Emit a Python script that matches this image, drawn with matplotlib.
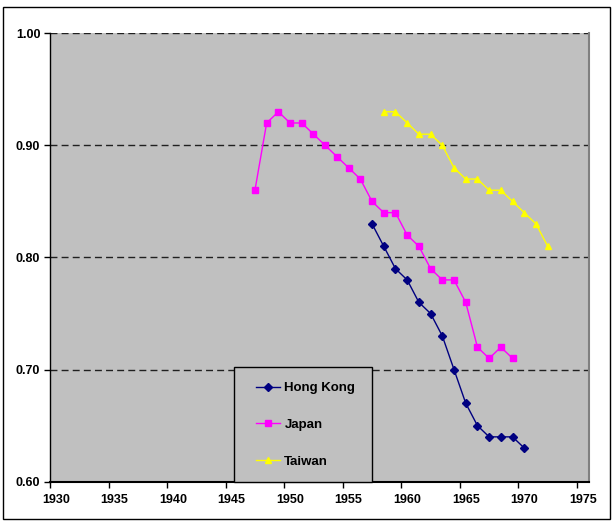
import matplotlib
matplotlib.use("Agg")
import matplotlib.pyplot as plt
from matplotlib.patches import Rectangle

plt.rcParams['font.family'] = ['Liberation Sans', 'DejaVu Sans']
plt.rcParams['font.weight'] = 'bold'

years_hk = [1957, 1958, 1959, 1960, 1961, 1962, 1963, 1964, 1965, 1966, 1967, 1968, 1969, 1970]
hong_kong = [0.83, 0.81, 0.79, 0.78, 0.76, 0.75, 0.73, 0.70, 0.67, 0.65, 0.64, 0.64, 0.64, 0.63]

years_jp = list(range(1947, 1970))
japan = [0.86, 0.92, 0.93, 0.92, 0.92, 0.91, 0.90, 0.89, 0.88, 0.87, 0.85, 0.84, 0.84,
         0.82, 0.81, 0.79, 0.78, 0.78, 0.76, 0.72, 0.71, 0.72, 0.71]

years_tw = list(range(1958, 1973))
taiwan = [0.93, 0.93, 0.92, 0.91, 0.91, 0.90, 0.88, 0.87, 0.87, 0.86, 0.86, 0.85, 0.84, 0.83, 0.81]

x_labels = [1930, 1935, 1940, 1945, 1950, 1955, 1960, 1965, 1970, 1975]
y_ticks = [0.60, 0.70, 0.80, 0.90, 1.00]

W, H = 613, 522
fig = plt.figure(figsize=(W / 100, H / 100), dpi=100)
fig.patch.set_facecolor('white')
# outer chart border
fig.patches.append(Rectangle((3 / W, 3 / H), 607 / W, 512 / H, transform=fig.transFigure,
                             fill=False, edgecolor='black', linewidth=1.0))

left, right, top, bottom = 50, 588.7, 33.3, 481.7
aw, ah = right - left, bottom - top
ax = fig.add_axes([left / W, (H - bottom) / H, aw / W, ah / H])
ax.set_facecolor('#C0C0C0')

for y in y_ticks[1:]:
    ax.axhline(y, color='#202020', linestyle=(0, (5, 3)), linewidth=1.0, zorder=1)

ax.plot(years_hk, hong_kong, color='#000080', marker='D', markersize=4.3, linewidth=1.0,
        label='Hong Kong', zorder=3)
ax.plot(years_jp, japan, color='#FF00FF', marker='s', markersize=4.5, linewidth=1.0,
        label='Japan', zorder=3)
ax.plot(years_tw, taiwan, color='#FFFF00', marker='^', markersize=5, linewidth=1.0,
        label='Taiwan', zorder=3)

ax.set_xlim(1929.5, 1975.5)
ax.set_ylim(0.60, 1.00)

ax.set_xticks(x_labels)
ax.set_xticklabels([str(v) for v in x_labels], fontsize=9, fontweight='bold')
ax.set_xticks([v - 0.5 for v in x_labels], minor=True)
ax.tick_params(axis='x', which='major', length=0, pad=9)
ax.tick_params(axis='x', which='minor', length=4, width=1, direction='out', color='black')

ax.set_yticks(y_ticks)
ax.set_yticklabels([f"{v:.2f}" for v in y_ticks], fontsize=9, fontweight='bold')
ax.tick_params(axis='y', length=4, width=1, direction='out', pad=3)

ax.spines['top'].set_visible(False)
ax.spines['right'].set_color('#808080')
ax.spines['right'].set_linewidth(1.5)
ax.spines['left'].set_linewidth(1.0)
ax.spines['bottom'].set_linewidth(1.5)

# legend frame
lx0, lx1, ly0 = 234, 372, 367
ax.add_patch(Rectangle(((lx0 - left) / aw, 0), (lx1 - lx0) / aw, (bottom - ly0) / ah,
                       transform=ax.transAxes, facecolor='#C0C0C0', edgecolor='black',
                       linewidth=1.0, zorder=4, clip_on=False))
leg = ax.legend(loc='upper left', bbox_to_anchor=((256 - left) / aw, (bottom - 382) / ah),
                frameon=False, prop={'size': 9.5, 'weight': 'bold'}, labelspacing=1.85,
                handlelength=1.85, handletextpad=0.3, borderpad=0, borderaxespad=0)
leg.set_zorder(5)

fig.savefig('out.png', dpi=100)
